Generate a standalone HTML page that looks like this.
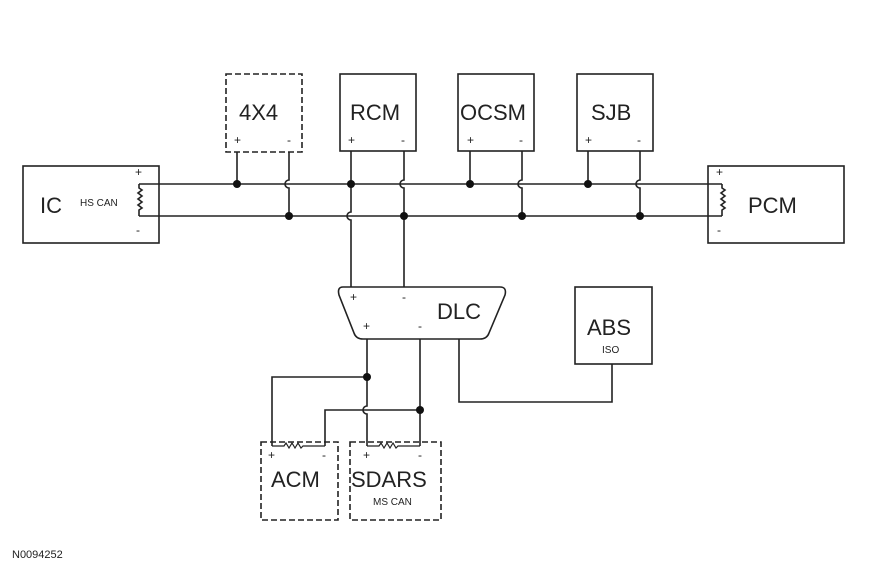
<!DOCTYPE html>
<html><head><style>html,body{margin:0;padding:0;background:#fff}svg{display:block}</style></head><body>
<svg width="870" height="570" xmlns="http://www.w3.org/2000/svg" font-family="Liberation Sans, sans-serif">
<g fill="none" stroke="#222" stroke-width="1.6">
<rect x="23" y="166" width="136" height="77"/>
<rect x="708" y="166" width="136" height="77"/>
<rect x="226" y="74" width="76" height="78" stroke-dasharray="6,3"/>
<rect x="340" y="74" width="76" height="77"/>
<rect x="458" y="74" width="76" height="77"/>
<rect x="577" y="74" width="76" height="77"/>
<rect x="575" y="287" width="77" height="77"/>
<rect x="261" y="442" width="77" height="78" stroke-dasharray="6,3"/>
<rect x="350" y="442" width="91" height="78" stroke-dasharray="6,3"/>
<path d="M343 287 H500 Q507 287 505 295 L489 333 Q487 339 480 339 H363 Q356 339 354 333 L339 295 Q337 287 343 287 Z"/>
<path d="M139 184 H722 M139 216 H722"/>
<path d="M139 184 V188 l3 2 l-4 3 l4 3 l-4 3 l4 3 l-4 3 l4 3 l-3 2 V216"/>
<path d="M722 184 V188 l3 2 l-4 3 l4 3 l-4 3 l4 3 l-4 3 l4 3 l-3 2 V216"/>
<path d="M237 152 V184 M289 152 V180 a4 4 0 0 0 0 8 V216"/>
<path d="M351 151 V212 a4 4 0 0 0 0 8 V287 M404 151 V180 a4 4 0 0 0 0 8 V287"/>
<path d="M470 151 V184 M522 151 V180 a4 4 0 0 0 0 8 V216"/>
<path d="M588 151 V184 M640 151 V180 a4 4 0 0 0 0 8 V216"/>
<path d="M367 339 V406 a4 4 0 0 0 0 8 V446 M420 339 V446"/>
<path d="M367 377 H272 V446 M420 410 H325 V446"/>
<path d="M459 339 V402 H612 V364"/>
<path d="M272 446 H284 l2 -3 l3 5 l3 -5 l3 5 l3 -5 l3 5 l2 -2 H325" stroke-width="1.2"/>
<path d="M367 446 H379 l2 -3 l3 5 l3 -5 l3 5 l3 -5 l3 5 l2 -2 H420" stroke-width="1.2"/>
</g>
<g fill="#111">
<circle cx="237" cy="184" r="4"/><circle cx="289" cy="216" r="4"/>
<circle cx="351" cy="184" r="4"/><circle cx="404" cy="216" r="4"/>
<circle cx="470" cy="184" r="4"/><circle cx="522" cy="216" r="4"/>
<circle cx="588" cy="184" r="4"/><circle cx="640" cy="216" r="4"/>
<circle cx="367" cy="377" r="4"/><circle cx="420" cy="410" r="4"/>
</g>
<g fill="#222" font-size="22">
<text x="40" y="213">IC</text>
<text x="748" y="213">PCM</text>
<text x="239" y="120">4X4</text>
<text x="350" y="120">RCM</text>
<text x="460" y="120">OCSM</text>
<text x="591" y="120">SJB</text>
<text x="437" y="319">DLC</text>
<text x="587" y="335">ABS</text>
<text x="271" y="487">ACM</text>
<text x="351" y="487">SDARS</text>
</g>
<g fill="#222" font-size="10">
<text x="80" y="206">HS CAN</text>
<text x="602" y="353">ISO</text>
<text x="373" y="505">MS CAN</text>
<text x="12" y="558" font-size="11">N0094252</text>
</g>
<g fill="#222" font-size="12">
<text x="135" y="176">+</text><text x="136" y="234">-</text>
<text x="716" y="176">+</text><text x="717" y="234">-</text>
<text x="234" y="144">+</text><text x="287" y="144">-</text>
<text x="348" y="144">+</text><text x="401" y="144">-</text>
<text x="467" y="144">+</text><text x="519" y="144">-</text>
<text x="585" y="144">+</text><text x="637" y="144">-</text>
<text x="350" y="301">+</text><text x="402" y="301">-</text>
<text x="363" y="330">+</text><text x="418" y="330">-</text>
<text x="268" y="459">+</text><text x="322" y="459">-</text>
<text x="363" y="459">+</text><text x="418" y="459">-</text>
</g>
</svg>
</body></html>
